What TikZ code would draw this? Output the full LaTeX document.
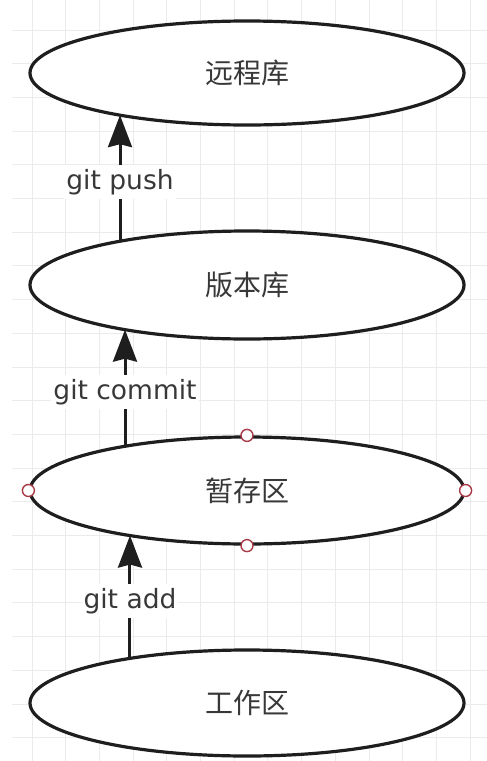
\documentclass[tikz,border=0pt]{standalone}
\usepackage{fontspec}
\setmainfont{DejaVu Sans}
\newfontfamily\cjk{Noto Sans CJK SC}
\usetikzlibrary{shapes.geometric,arrows.meta,intersections}
\definecolor{gridc}{HTML}{EBEBEB}
\definecolor{inkc}{HTML}{1E1E1E}
\definecolor{txtc}{HTML}{383838}
\definecolor{ptc}{HTML}{A83A45}
\tikzset{
  ell/.style={ellipse,draw=inkc,line width=3.2pt,fill=white,inner sep=0pt,
    minimum width=434pt,text=txtc,font=\cjk\fontsize{28}{30}\selectfont},
  arr/.style={draw=inkc,line width=3pt,-{Stealth[length=32pt,width=24pt,inset=3pt]}},
  lbl/.style={fill=white,text=txtc,inner xsep=2pt,inner ysep=4pt,yshift=-4pt,
    font=\fontsize{26.5}{28}\selectfont},
  cpt/.style={circle,draw=ptc,line width=1.4pt,fill=white,minimum size=12pt,inner sep=0pt},
}
\begin{document}
\begin{tikzpicture}[x=1pt,y=-1pt]
\useasboundingbox (0,0) rectangle (487,761);
\fill[white] (0,0) rectangle (487,761);
% grid
\foreach \k in {0,...,13} \draw[gridc,line width=1pt] ({32+33.7*\k},0) -- ({32+33.7*\k},761);
\foreach \k in {0,...,21} \draw[gridc,line width=1pt] (12,{30+33.7*\k}) -- (487,{30+33.7*\k});
% ellipses
\node[ell,minimum height=104pt,name path=E1] (e1) at (247,73) {远程库};
\node[ell,minimum height=108pt,name path=E2] (e2) at (247,285) {版本库};
\node[ell,minimum height=107pt,name path=E3] (e3) at (247,490.5) {暂存区};
\node[ell,minimum height=106pt,name path=E4] (e4) at (247,703) {工作区};
% vertical guides
\path[name path=L1] (120,0) -- (120,761);
\path[name path=L2] (125,0) -- (125,761);
\path[name path=L3] (130,0) -- (130,761);
\path[name intersections={of=E1 and L1,by={e1t,e1b},sort by=L1}];
\path[name intersections={of=E2 and L1,by={e2ta,e2ba},sort by=L1}];
\path[name intersections={of=E2 and L2,by={e2tb,e2bb},sort by=L2}];
\path[name intersections={of=E3 and L2,by={e3ta,e3ba},sort by=L2}];
\path[name intersections={of=E3 and L3,by={e3tb,e3bb},sort by=L3}];
\path[name intersections={of=E4 and L3,by={e4t,e4b},sort by=L3}];
% connectors
\draw[arr] (e2ta) -- (e1b) node[midway,lbl] {git push};
\draw[arr] (e3ta) -- (e2bb) node[midway,lbl] {git commit};
\draw[arr] (e4t) -- (e3bb) node[midway,lbl] {git add};
% connection points
\node[cpt] (c1) at (e3.north) {};
\node[cpt] (c2) at (e3.south) {};
\node[cpt] (c3) at (e3.west) {};
\node[cpt] (c4) at (e3.east) {};
\end{tikzpicture}
\end{document}
